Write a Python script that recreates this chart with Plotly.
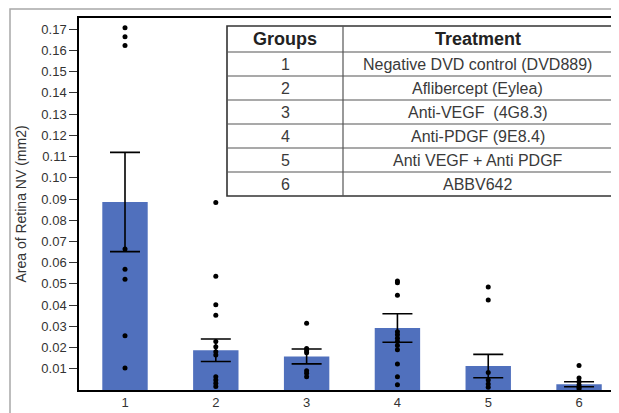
import plotly.graph_objects as go

# ---------------- data ----------------
groups = [1, 2, 3, 4, 5, 6]
group_labels = ["1", "2", "3", "4", "5", "6"]
mean_area = [0.0886, 0.0187, 0.0158, 0.0292, 0.0113, 0.0027]
sem_area = [0.0234, 0.0053, 0.0035, 0.0067, 0.0055, 0.0012]

g1_points = [0.1707, 0.1665, 0.1623, 0.0664, 0.0569, 0.0522, 0.0256, 0.0104]
g2_points = [0.0883, 0.0536, 0.0402, 0.0352, 0.0228, 0.0204, 0.0180, 0.0165,
             0.0063, 0.0047, 0.0032, 0.0016]
g3_points = [0.0314, 0.0196, 0.0185, 0.0176, 0.0091, 0.0079, 0.0063]
g4_points = [0.0514, 0.0505, 0.0446, 0.0275, 0.0260, 0.0244, 0.0228, 0.0210,
             0.0190, 0.0123, 0.0063, 0.0025]
g5_points = [0.0485, 0.0424, 0.0082, 0.0047, 0.0028, 0.0013]
g6_points = [0.0115, 0.0057, 0.0039, 0.0024, 0.0013, 0.0006]
all_points = [g1_points, g2_points, g3_points, g4_points, g5_points, g6_points]

y_ticks = [0.01, 0.02, 0.03, 0.04, 0.05, 0.06, 0.07, 0.08, 0.09, 0.10,
           0.11, 0.12, 0.13, 0.14, 0.15, 0.16, 0.17]
y_tick_text = ["0.01", "0.02", "0.03", "0.04", "0.05", "0.06", "0.07", "0.08",
               "0.09", "0.10", "0.11", "0.12", "0.13", "0.14", "0.15", "0.16", "0.17"]

table_header = ["Groups", "Treatment"]
table_groups = ["1", "2", "3", "4", "5", "6"]
table_treatments = ["Negative DVD control (DVD889)", "Aflibercept (Eylea)",
                    "Anti-VEGF\u00a0 (4G8.3)", "Anti-PDGF (9E8.4)",
                    "Anti VEGF\u00a0+ Anti PDGF", "ABBV642"]

# ---------------- figure ----------------
OFF = 8  # page body margin
W, H = 619 - OFF, 413 - OFF
ML, MR, MT, MB = 79 - OFF, 0, 18 - OFF, 23
PW, PH = W - ML - MR, H - MT - MB
FONT = "Liberation Sans, Arial, sans-serif"
BAR_COLOR = "#5070BD"


def px_x(p):
    return (p - OFF - ML) / PW


def px_y(p):
    return (H - MB - (p - OFF)) / PH


fig = go.Figure()
fig.add_trace(go.Bar(
    x=groups, y=mean_area, width=0.5,
    marker=dict(color=BAR_COLOR, line=dict(width=0)),
    error_y=dict(type="data", array=sem_area, visible=True,
                 color="black", thickness=1.6, width=15),
    showlegend=False, hoverinfo="y",
))
px_list, py_list = [], []
for g, pts in zip(groups, all_points):
    px_list += [g] * len(pts)
    py_list += pts
fig.add_trace(go.Scatter(
    x=px_list, y=py_list, mode="markers",
    marker=dict(color="black", size=5, symbol="circle"),
    showlegend=False,
))

shapes = []
# outer grey frame
shapes.append(dict(type="rect", xref="paper", yref="paper",
                   x0=px_x(10), x1=px_x(640), y0=px_y(9), y1=px_y(440),
                   line=dict(color="#a8a8a8", width=1.5), fillcolor="rgba(0,0,0,0)",
                   layer="below"))

# table
tx0, tdiv, tx1 = 227, 343, 612
ty0, thead = 26, 52
row_h = 24
ty1 = thead + row_h * len(table_groups)
shapes.append(dict(type="rect", xref="paper", yref="paper",
                   x0=px_x(tx0), x1=px_x(tx1), y0=px_y(ty0), y1=px_y(ty1),
                   line=dict(color="#333333", width=1.6), fillcolor="white"))
shapes.append(dict(type="line", xref="paper", yref="paper",
                   x0=px_x(tdiv), x1=px_x(tdiv), y0=px_y(ty0), y1=px_y(ty1),
                   line=dict(color="#555555", width=1.2)))
for i in range(len(table_groups)):
    yy = thead + row_h * i
    shapes.append(dict(type="line", xref="paper", yref="paper",
                       x0=px_x(tx0), x1=px_x(tx1), y0=px_y(yy), y1=px_y(yy),
                       line=dict(color="#555555", width=1.2)))

annotations = []
for txt, xc in zip(table_header, [(tx0 + tdiv) / 2, (tdiv + tx1) / 2]):
    annotations.append(dict(xref="paper", yref="paper", x=px_x(xc),
                            y=px_y((ty0 + thead) / 2), text="<b>" + txt + "</b>",
                            showarrow=False, xanchor="center", yanchor="middle",
                            font=dict(family=FONT, size=18, color="#222222")))
for i, (g, t) in enumerate(zip(table_groups, table_treatments)):
    yc = thead + row_h * i + row_h / 2
    annotations.append(dict(xref="paper", yref="paper", x=px_x((tx0 + tdiv) / 2),
                            y=px_y(yc), text=g, showarrow=False,
                            xanchor="center", yanchor="middle",
                            font=dict(family=FONT, size=16, color="#3a3a3a")))
    annotations.append(dict(xref="paper", yref="paper", x=px_x((tdiv + tx1) / 2),
                            y=px_y(yc), text=t, showarrow=False,
                            xanchor="center", yanchor="middle",
                            font=dict(family=FONT, size=16, color="#3a3a3a")))

fig.update_layout(
    width=W, height=H,
    margin=dict(l=ML, r=MR, t=MT, b=MB, pad=0),
    paper_bgcolor="white", plot_bgcolor="white",
    font=dict(family=FONT, size=13, color="#333333"),
    shapes=shapes, annotations=annotations,
    xaxis=dict(range=[0.4934, 6.44], tickvals=groups, ticktext=group_labels,
               showgrid=False, zeroline=False, showline=True, linecolor="black",
               linewidth=1.5, mirror=True, ticks="",
               tickfont=dict(family=FONT, size=13, color="#333333")),
    yaxis=dict(range=[0, 0.1753], tickvals=y_ticks, ticktext=y_tick_text,
               showgrid=False, zeroline=False, showline=True, linecolor="black",
               linewidth=1.5, ticks="outside", ticklen=8, tickwidth=1.2,
               tickcolor="#333333",
               tickfont=dict(family=FONT, size=13, color="#333333"),
               title=dict(text="Area of Retina NV (mm2)", standoff=11,
                          font=dict(family=FONT, size=14, color="#333333"))),
)

fig.write_html("out.html")
